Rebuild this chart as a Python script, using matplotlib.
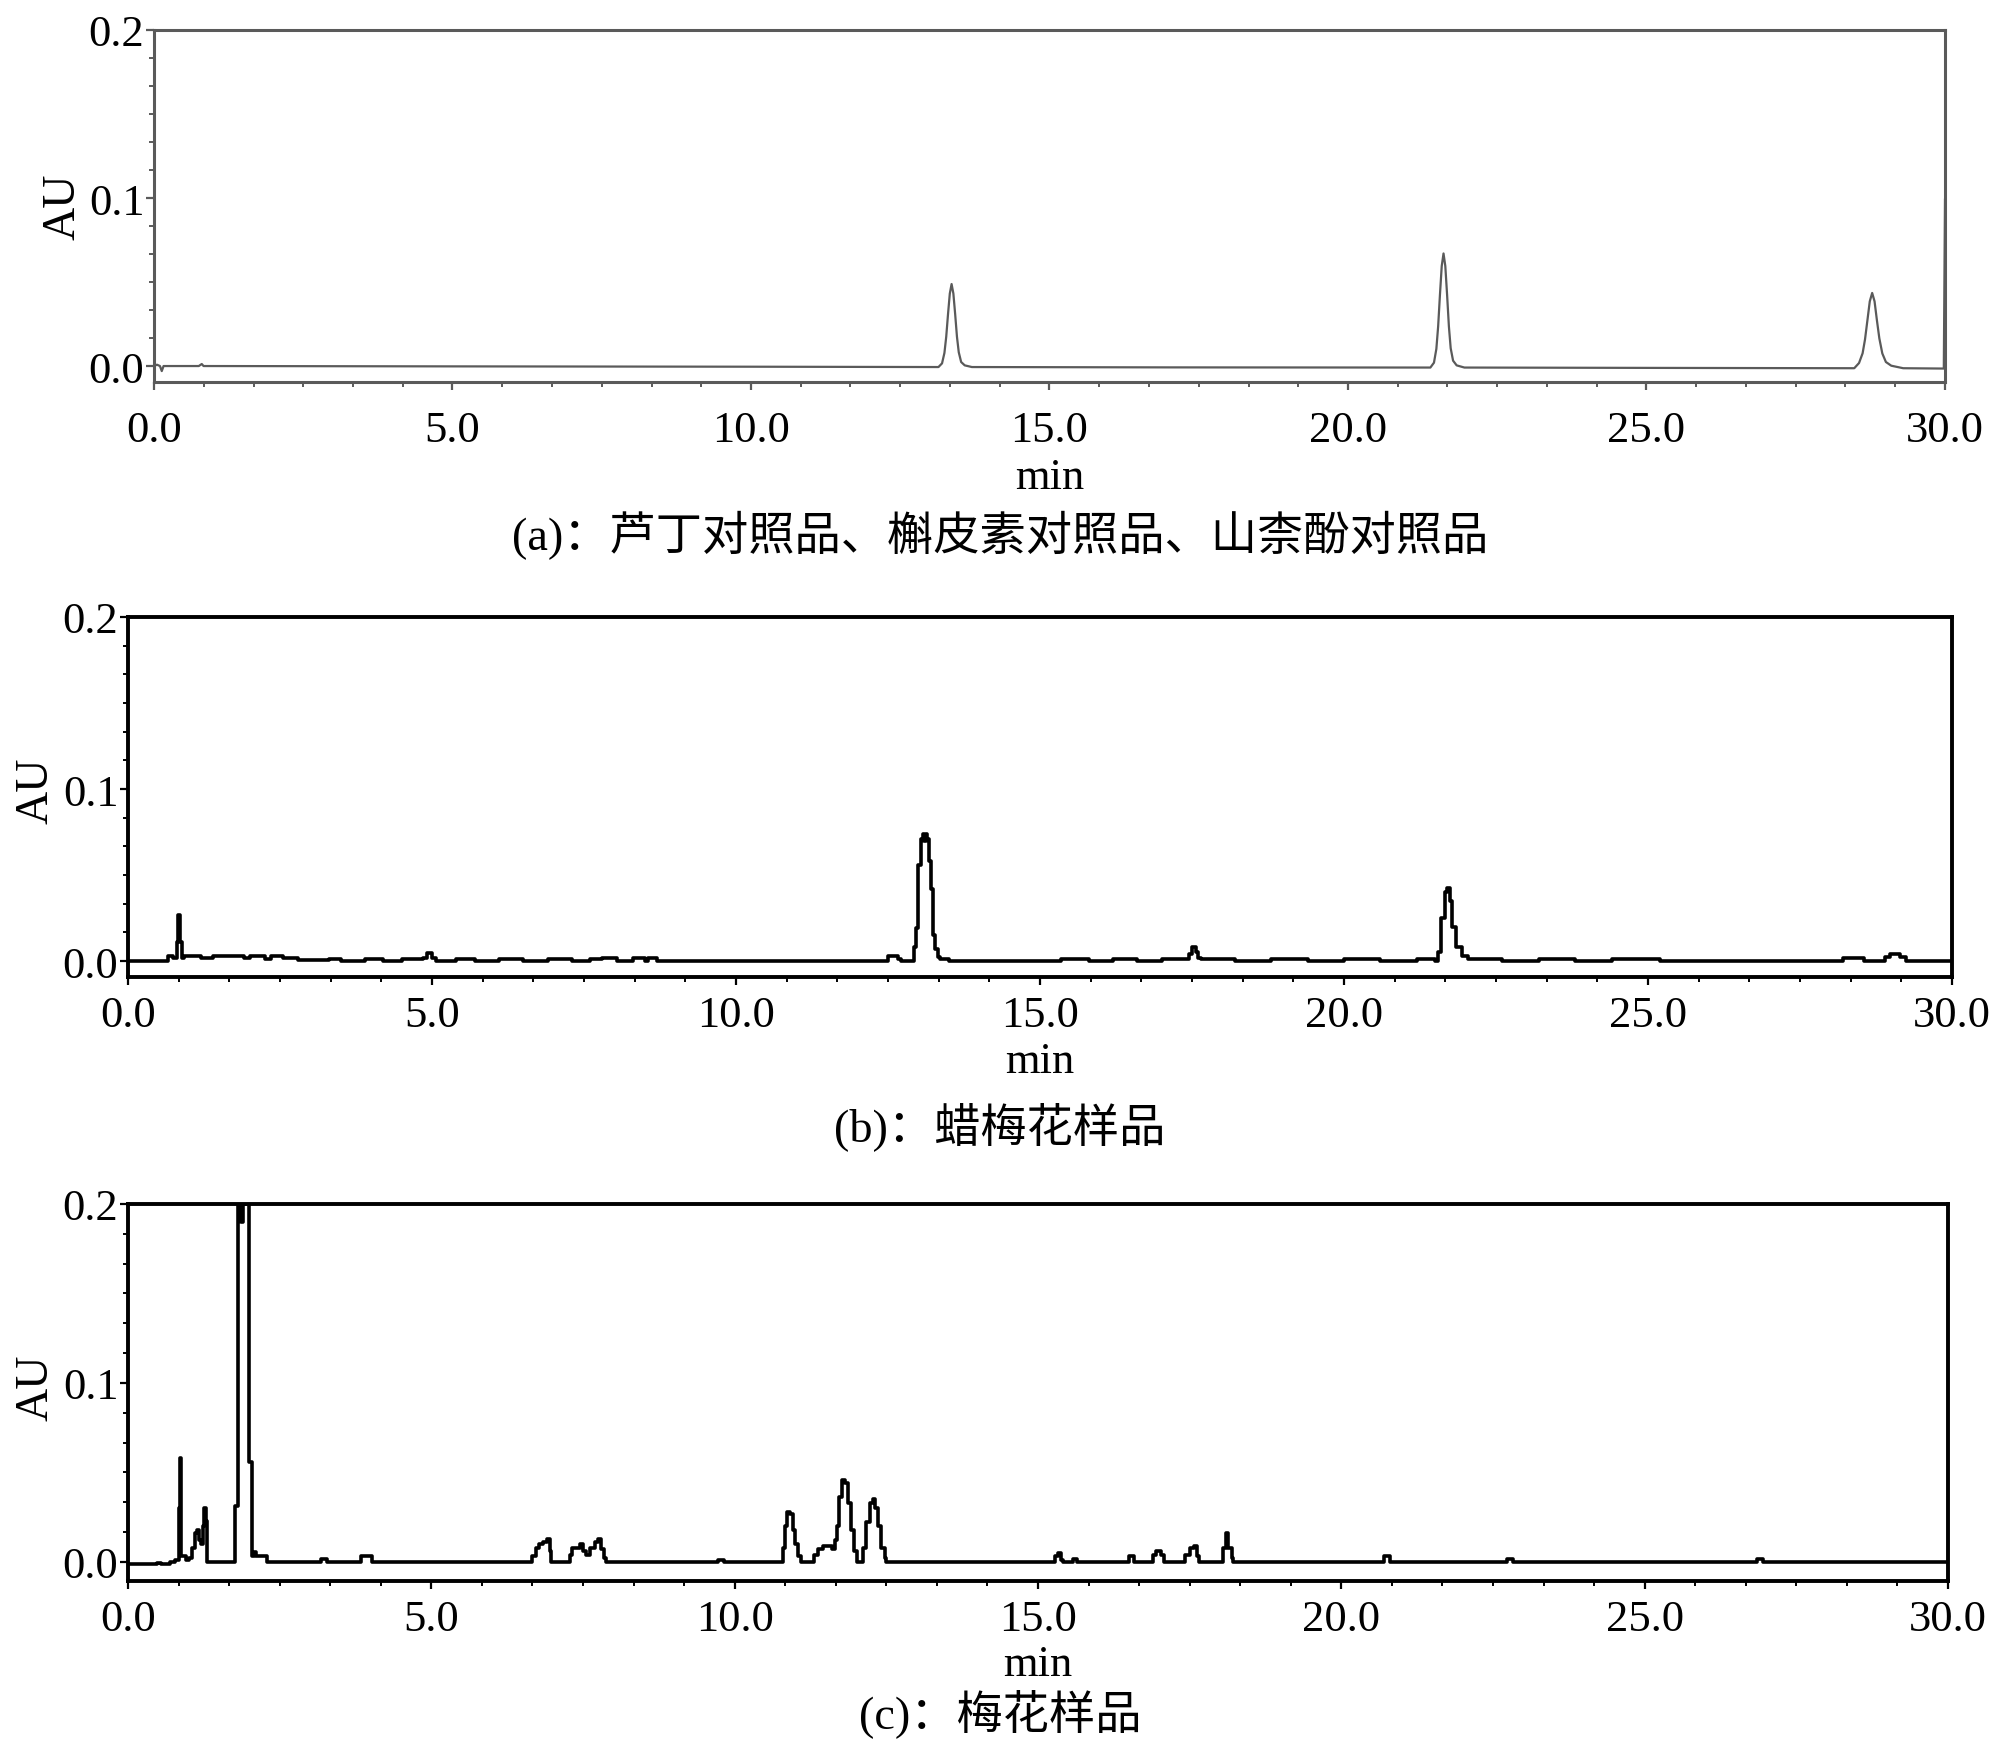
import matplotlib
matplotlib.use("Agg")
import matplotlib.pyplot as plt
from matplotlib.ticker import MultipleLocator, AutoMinorLocator, FormatStrFormatter

plt.rcParams['font.family'] = ['Liberation Serif', 'Noto Sans CJK SC']

# (a) reference standards trace: time (min), absorbance (AU)
t_a = [0.0, 0.05, 0.1, 0.13, 0.16, 0.2, 0.75, 0.8, 0.83, 0.9, 5.0, 10.0,
       13.14, 13.2, 13.24, 13.27, 13.3, 13.33, 13.36, 13.39, 13.42, 13.45, 13.48, 13.52, 13.58, 13.7,
       17.0, 21.38, 21.44, 21.48, 21.51, 21.54, 21.57, 21.6, 21.63, 21.66, 21.69, 21.72, 21.76, 21.82, 21.95,
       25.0, 28.48, 28.56, 28.62, 28.66, 28.7, 28.74, 28.78, 28.82, 28.86, 28.9, 28.95, 29.01, 29.1, 29.3,
       29.98, 30.0]
y_a = [0.0, 0.0008, 0.0, -0.003, 0.0, 0.0, 0.0, 0.0012, 0.0, 0.0, -0.0002, -0.0004,
       -0.0006, 0.0016, 0.0078, 0.0174, 0.0308, 0.0431, 0.0488, 0.0431, 0.0308, 0.0174, 0.0082, 0.0024, 0.0004, -0.0006,
       -0.0008, -0.0009, 0.002, 0.0102, 0.0236, 0.0423, 0.0595, 0.067, 0.0595, 0.0423, 0.0236, 0.0106, 0.0032, 0.0004, -0.0009,
       -0.0011, -0.0013, 0.0018, 0.0076, 0.0158, 0.0271, 0.0385, 0.0435, 0.0385, 0.0271, 0.0165, 0.0075, 0.0024, 0.0002, -0.0013,
       -0.0015, 0.099]

# (b) wintersweet sample trace (step samples)
t_b = [0.0, 0.66, 0.74, 0.8, 0.82, 0.85, 0.88, 0.92, 1.2, 1.4, 1.75, 1.9, 2.0, 2.25, 2.35, 2.55, 2.8,
       3.3, 3.5, 3.9, 4.2, 4.5, 4.85, 4.92, 5.0, 5.06, 5.4, 5.7, 6.1, 6.5, 6.9, 7.3, 7.6, 7.8, 8.05, 8.3, 8.5, 8.55, 8.7,
       12.5, 12.66, 12.71, 12.92, 12.96, 13.0, 13.04, 13.07, 13.1, 13.12, 13.14, 13.17, 13.2, 13.24, 13.28, 13.32, 13.36, 13.5,
       15.35, 15.8, 16.2, 16.6, 17.0, 17.45, 17.5, 17.56, 17.6, 17.65, 18.2, 18.8, 19.4, 20.0, 20.6, 21.2, 21.5,
       21.55, 21.6, 21.66, 21.7, 21.74, 21.78, 21.84, 21.94, 22.04, 22.6, 23.2, 23.8, 24.4, 25.2,
       28.2, 28.55, 28.9, 28.98, 29.15, 29.25, 30.0]
y_b = [0.0, 0.003, 0.002, 0.011, 0.027, 0.011, 0.002, 0.003, 0.002, 0.003, 0.003, 0.002, 0.003, 0.001, 0.003, 0.002, 0.0005,
       0.001, 0.0, 0.001, 0.0, 0.001, 0.002, 0.0048, 0.002, 0.0, 0.001, 0.0, 0.001, 0.0, 0.001, 0.0, 0.001, 0.0015, 0.0, 0.0015, 0.0, 0.0015, 0.0,
       0.003, 0.001, 0.0, 0.0084, 0.019, 0.056, 0.071, 0.074, 0.07, 0.074, 0.071, 0.058, 0.042, 0.015, 0.007, 0.0025, 0.001, 0.0,
       0.001, 0.0, 0.001, 0.0, 0.001, 0.004, 0.008, 0.005, 0.002, 0.001, 0.0, 0.001, 0.0, 0.001, 0.0, 0.001, 0.0,
       0.005, 0.025, 0.04, 0.0425, 0.035, 0.02, 0.008, 0.003, 0.001, 0.0, 0.001, 0.0, 0.001, 0.0,
       0.002, 0.0, 0.0025, 0.0038, 0.0025, 0.0, 0.0]

# (c) plum blossom sample trace (step samples)
t_c = [0.0, 0.47, 0.55, 0.7, 0.78, 0.84, 0.86, 0.88, 0.95, 1.0, 1.05, 1.1, 1.13, 1.17, 1.2, 1.23, 1.25, 1.28, 1.31,
       1.76, 1.81, 1.87, 1.89, 1.99, 2.04, 2.08, 2.11, 2.29, 3.18, 3.28, 3.84, 4.03,
       6.66, 6.72, 6.78, 6.84, 6.9, 6.95, 6.98, 7.28, 7.32, 7.45, 7.5, 7.55, 7.62, 7.7, 7.75, 7.8, 7.85, 7.88,
       9.73, 9.83, 10.79, 10.83, 10.87, 10.92, 10.96, 11.0, 11.05, 11.1,
       11.31, 11.38, 11.45, 11.6, 11.65, 11.68, 11.72, 11.77, 11.82, 11.86, 11.91, 11.96, 12.01,
       12.12, 12.17, 12.23, 12.28, 12.32, 12.37, 12.42, 12.47, 12.5,
       15.28, 15.33, 15.38, 15.42, 15.57, 15.64, 16.5, 16.58, 16.9, 16.95, 17.02, 17.07,
       17.42, 17.5, 17.57, 17.62, 17.66, 18.05, 18.1, 18.14, 18.19, 18.22,
       20.7, 20.8, 22.73, 22.83, 26.85, 26.95, 30.0]
y_c = [-0.0012, -0.0005, -0.0012, 0.0, 0.001, 0.03, 0.058, 0.003, 0.001, 0.002, 0.008, 0.016, 0.018, 0.012, 0.01, 0.02, 0.03, 0.023, 0.0,
       0.031, 0.2, 0.19, 0.2, 0.056, 0.003, 0.0056, 0.003, 0.0, 0.0017, 0.0, 0.003, 0.0,
       0.003, 0.008, 0.01, 0.011, 0.0125, 0.006, 0.0, 0.004, 0.008, 0.01, 0.006, 0.004, 0.008, 0.011, 0.013, 0.007, 0.002, 0.0,
       0.001, 0.0, 0.008, 0.02, 0.028, 0.027, 0.018, 0.01, 0.003, 0.0,
       0.004, 0.007, 0.009, 0.007, 0.012, 0.02, 0.036, 0.046, 0.044, 0.033, 0.018, 0.006, 0.0,
       0.008, 0.022, 0.033, 0.035, 0.03, 0.02, 0.008, 0.002, 0.0,
       0.003, 0.0047, 0.001, 0.0, 0.0015, 0.0, 0.003, 0.0, 0.004, 0.006, 0.004, 0.0,
       0.004, 0.008, 0.009, 0.003, 0.0, 0.008, 0.016, 0.008, 0.002, 0.0,
       0.0033, 0.0, 0.0015, 0.0, 0.0015, 0.0, 0.0]

captions = ['(a)：芦丁对照品、槲皮素对照品、山柰酚对照品', '(b)：蜡梅花样品', '(c)：梅花样品']

W, H = 2000, 1758
fig = plt.figure(figsize=(W / 100, H / 100), dpi=100)

def px_axes(l, t, r, b):
    return fig.add_axes([l / W, 1 - b / H, (r - l) / W, (b - t) / H])

panels = [
    dict(box=(154, 31, 1945, 383), t=t_a, y=y_a, ymin=-0.0095, col='#5a5a5a', lw=1.6, slw=2.2,
         steps=False, au=(63, 207), mn=489, cap=536, xpad=14),
    dict(box=(128, 618, 1952, 978), t=t_b, y=y_b, ymin=-0.0093, col='black', lw=2.6, slw=2.8,
         steps=True, au=(36, 791), mn=1073, cap=1127, xpad=7),
    dict(box=(128, 1205, 1948, 1582), t=t_c, y=y_c, ymin=-0.0107, col='black', lw=2.6, slw=2.8,
         steps=True, au=(36, 1388), mn=1676, cap=1714, xpad=7),
]

for p, cap in zip(panels, captions):
    l, t, r, b = p['box']
    ax = px_axes(l, t, r, b)
    if p['steps']:
        ax.plot(p['t'], p['y'], color=p['col'], lw=p['lw'], drawstyle='steps-post')
    else:
        ax.plot(p['t'], p['y'], color=p['col'], lw=p['lw'])
    ax.set_xlim(0, 30)
    ax.set_ylim(p['ymin'], 0.2)
    ax.xaxis.set_major_locator(MultipleLocator(5))
    ax.xaxis.set_minor_locator(AutoMinorLocator(6))
    ax.yaxis.set_major_locator(MultipleLocator(0.1))
    ax.yaxis.set_minor_locator(AutoMinorLocator(6))
    ax.xaxis.set_major_formatter(FormatStrFormatter('%.1f'))
    ax.yaxis.set_major_formatter(FormatStrFormatter('%.1f'))
    for s in ax.spines.values():
        s.set_color(p['col'])
        s.set_linewidth(p['slw'])
    ax.tick_params(which='major', direction='out', length=6, width=1.6, colors=p['col'],
                   labelcolor='black', labelsize=32)
    ax.tick_params(which='minor', direction='out', length=3.5, width=1.4, colors=p['col'])
    ax.tick_params(axis='x', which='major', pad=p['xpad'])
    ax.tick_params(axis='y', which='major', pad=1)
    fig.text(p['au'][0] / W, 1 - p['au'][1] / H, 'AU', rotation=90, fontsize=33,
             ha='center', va='center')
    fig.text((l + r) / 2 / W, 1 - p['mn'] / H, 'min', fontsize=32, ha='center', va='baseline')
    fig.text(0.5, 1 - p['cap'] / H, cap, fontsize=33.3, ha='center', va='center')

fig.savefig('out.png', dpi=100)
